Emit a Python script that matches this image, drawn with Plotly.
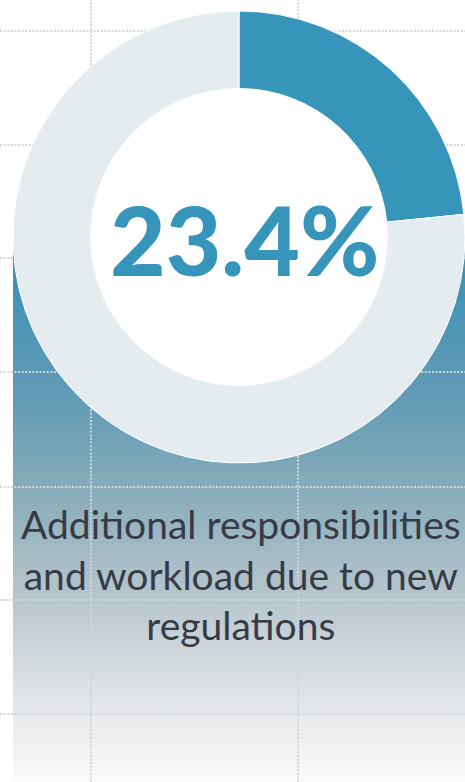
import plotly.graph_objects as go

# ---- data ----
categories = ["Additional responsibilities and workload due to new regulations", "Other"]
values = [23.4, 76.6]
label_lines = ["Additional responsibilities", "and workload due to new", "regulations"]

# ---- layout constants ----
W, H = 465, 782
BLUE = "#3795bb"
LIGHT = "#e4ecef"
TEXT = "#363b46"
GRID = "#d2d5d9"

def px(x):
    return x / W

def py(y):
    return 1 - y / H

shapes = []

# background gradient panel
stops = [(248, (55, 145, 183)), (400, (98, 155, 182)), (490, (135, 172, 186)),
         (600, (185, 198, 205)), (700, (226, 229, 232)), (782, (250, 250, 250))]

def grad(y):
    for (y0, c0), (y1, c1) in zip(stops[:-1], stops[1:]):
        if y0 <= y <= y1:
            t = (y - y0) / (y1 - y0)
            return "rgb(%d,%d,%d)" % tuple(round(a + (b - a) * t) for a, b in zip(c0, c1))
    return "rgb(250,250,250)"

for y in range(248, 782, 2):
    shapes.append(dict(type="rect", xref="paper", yref="paper",
                       x0=px(13), x1=px(W), y0=py(min(y + 2.6, 782)), y1=py(y),
                       fillcolor=grad(y + 1), line=dict(width=0), layer="below"))

# dotted grid
for gy in [31, 145, 258, 372, 487, 600, 714]:
    shapes.append(dict(type="line", xref="paper", yref="paper", x0=0, x1=1, y0=py(gy), y1=py(gy),
                       line=dict(color=GRID, width=2, dash="2px,1.6px"), layer="below"))
for gx in [91, 298]:
    shapes.append(dict(type="line", xref="paper", yref="paper", x0=px(gx), x1=px(gx), y0=0, y1=1,
                       line=dict(color=GRID, width=2, dash="2px,1.6px"), layer="below"))

# donut geometry
cx, cy, R = 239, 237, 226
hole = 0.657
r_in = R * hole
shapes.append(dict(type="circle", xref="paper", yref="paper",
                   x0=px(cx - r_in), x1=px(cx + r_in), y0=py(cy + r_in), y1=py(cy - r_in),
                   fillcolor="white", line=dict(width=0), layer="below"))

fig = go.Figure()
fig.add_trace(go.Pie(
    labels=categories, values=values, hole=hole, sort=False, direction="clockwise", rotation=0,
    marker=dict(colors=[BLUE, LIGHT], line=dict(color="white", width=1)),
    textinfo="none", hoverinfo="skip", showlegend=False,
    domain=dict(x=[px(cx - R), 1], y=[py(cy + R), py(cy - R)]),
))

annotations = [
    dict(text=f"{values[0]}%", x=px(244), y=py(238), xref="paper", yref="paper",
         showarrow=False, xanchor="center", yanchor="middle",
         font=dict(family="Lato", size=96, color=BLUE, weight=900)),
    dict(text="<br>".join(label_lines), x=px(241), y=py(574), xref="paper", yref="paper",
         showarrow=False, xanchor="center", yanchor="middle", align="center",
         font=dict(family="Lato", size=39, color=TEXT)),
]

fig.update_layout(
    width=W, height=H, margin=dict(l=0, r=0, t=0, b=0),
    paper_bgcolor="white", plot_bgcolor="white",
    shapes=shapes, annotations=annotations,
    xaxis=dict(visible=False), yaxis=dict(visible=False),
)

fig.write_html("out.html", config={"displayModeBar": False},
               post_script="document.body.style.margin='0';")
